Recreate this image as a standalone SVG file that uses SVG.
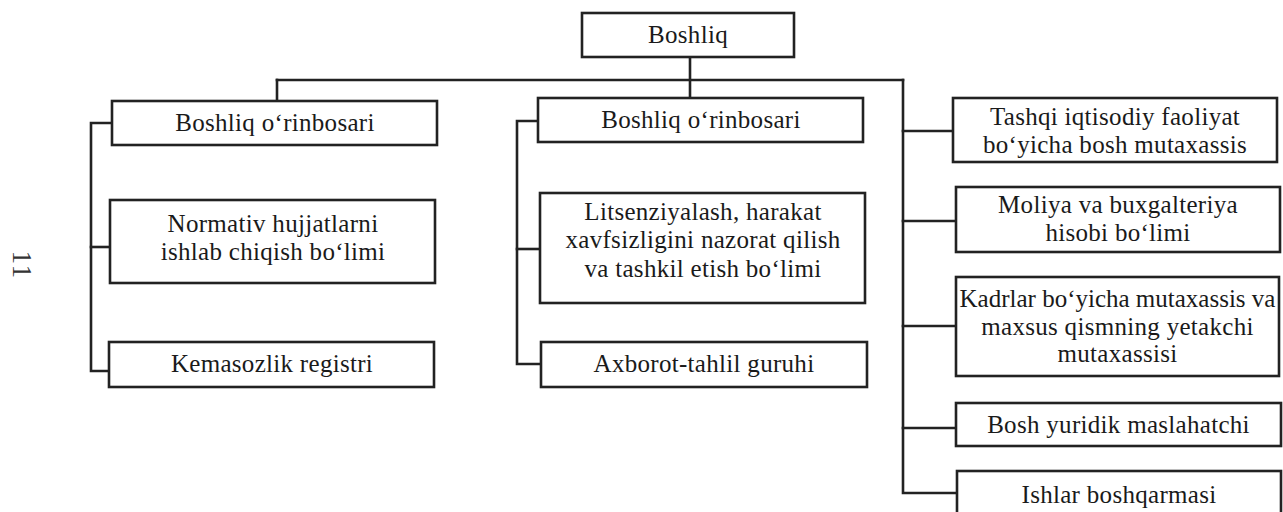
<svg xmlns="http://www.w3.org/2000/svg" width="1283" height="512" viewBox="0 0 1283 512">
  <style>
    .box { fill: #ffffff; stroke: #222222; stroke-width: 2.6; }
    .conn { fill: none; stroke: #222222; stroke-width: 2.6; stroke-linecap: square; }
    text { font-family: "Liberation Serif", "Times New Roman", serif; font-size: 25px; fill: #1a1a1a; text-anchor: middle; letter-spacing: 0.3px; }
    .pg { font-size: 27px; letter-spacing: 1.5px; fill: #333333; }
  </style>
  <rect x="0" y="0" width="1283" height="512" fill="#ffffff"/>

  <g id="connectors">
    <path class="conn" d="M690 57 V98"/>
    <path class="conn" d="M277 80 H903"/>
    <path class="conn" d="M277 80 V101"/>
    <path class="conn" d="M112 123 H91 V371 H109"/>
    <path class="conn" d="M91 247 H110"/>
    <path class="conn" d="M538 121 H517 V364 H541"/>
    <path class="conn" d="M517 249 H540"/>
    <path class="conn" d="M903 80 V493 H957"/>
    <path class="conn" d="M903 131 H953"/>
    <path class="conn" d="M903 221 H956"/>
    <path class="conn" d="M903 326 H956"/>
    <path class="conn" d="M903 428 H956"/>
  </g>

  <g id="boshliq">
    <rect class="box" x="582" y="13" width="212" height="44"/>
    <text x="688" y="43">Boshliq</text>
  </g>

  <g id="orinbosar1">
    <rect class="box" x="112" y="101" width="325" height="44"/>
    <text x="275" y="131">Boshliq o‘rinbosari</text>
  </g>
  <g id="normativ">
    <rect class="box" x="110" y="200" width="325" height="83"/>
    <text x="273" y="232">Normativ hujjatlarni</text>
    <text x="273" y="260">ishlab chiqish bo‘limi</text>
  </g>
  <g id="kemasozlik">
    <rect class="box" x="109" y="342" width="325" height="45"/>
    <text x="272" y="372">Kemasozlik registri</text>
  </g>

  <g id="orinbosar2">
    <rect class="box" x="538" y="98" width="325" height="44"/>
    <text x="701" y="128">Boshliq o‘rinbosari</text>
  </g>
  <g id="litsenziya">
    <rect class="box" x="540" y="193" width="325" height="110"/>
    <text x="703" y="220">Litsenziyalash, harakat</text>
    <text x="703" y="248">xavfsizligini nazorat qilish</text>
    <text x="703" y="277">va tashkil etish bo‘limi</text>
  </g>
  <g id="axborot">
    <rect class="box" x="541" y="342" width="326" height="45"/>
    <text x="704" y="372">Axborot-tahlil guruhi</text>
  </g>

  <g id="tashqi">
    <rect class="box" x="953" y="98" width="324" height="64"/>
    <text x="1115" y="125">Tashqi iqtisodiy faoliyat</text>
    <text x="1115" y="153">bo‘yicha bosh mutaxassis</text>
  </g>
  <g id="moliya">
    <rect class="box" x="956" y="187" width="324" height="65"/>
    <text x="1118" y="213">Moliya va buxgalteriya</text>
    <text x="1118" y="241">hisobi bo‘limi</text>
  </g>
  <g id="kadrlar">
    <rect class="box" x="956" y="277" width="323" height="99"/>
    <text x="1117.5" y="307" style="letter-spacing:0px">Kadrlar bo‘yicha mutaxassis va</text>
    <text x="1117.5" y="335">maxsus qismning yetakchi</text>
    <text x="1117.5" y="362">mutaxassisi</text>
  </g>
  <g id="yuridik">
    <rect class="box" x="956" y="403" width="325" height="43"/>
    <text x="1118.5" y="433">Bosh yuridik maslahatchi</text>
  </g>
  <g id="ishlar">
    <rect class="box" x="957" y="471" width="324" height="46"/>
    <text x="1119" y="503">Ishlar boshqarmasi</text>
  </g>

  <text class="pg" transform="translate(13 265) rotate(90)" x="0" y="0">11</text>
</svg>
